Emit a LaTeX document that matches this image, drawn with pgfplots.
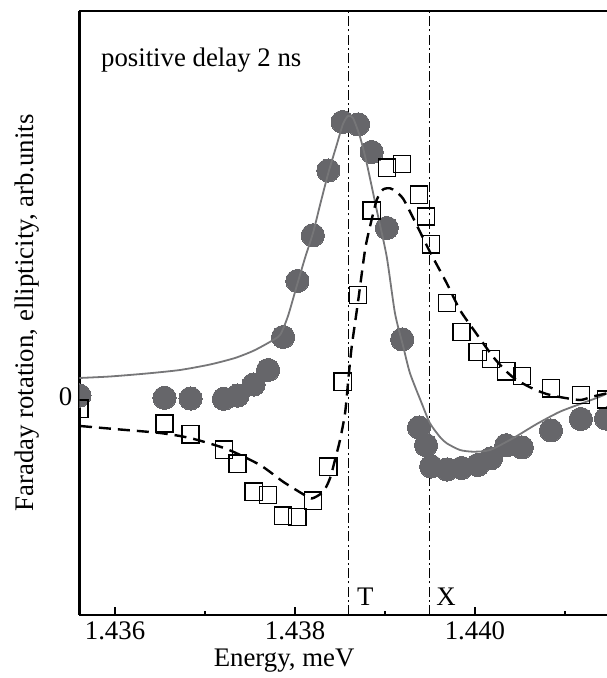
\documentclass[border=0pt]{standalone}
\usepackage{fontspec}
\setmainfont{Liberation Serif}
\usepackage{pgfplots}
\usepackage{pgfplotstable}
\pgfplotsset{compat=1.18}
\definecolor{dotgray}{RGB}{102,102,106}
\definecolor{linegray}{RGB}{118,118,120}
% x: (E - 1.436 meV) in units of 0.001 meV ; y: arb. units
\pgfplotstableread{
x y
-0.396 0.014
0.550 -0.008
0.839 -0.015
1.209 -0.018
1.361 0.014
1.540 0.125
1.700 0.27
1.867 0.60
2.026 1.16
2.198 1.617
2.370 2.265
2.529 2.75
2.701 2.726
2.852 2.45
3.020 1.69
3.191 0.576
3.378 -0.305
3.456 -0.482
3.513 -0.695
3.689 -0.725
3.851 -0.71
4.030 -0.68
4.178 -0.613
4.347 -0.482
4.521 -0.504
4.844 -0.334
5.176 -0.22
5.456 -0.215
}\circles
\pgfplotstableread{
x y
-0.396 -0.118
0.550 -0.265
0.839 -0.374
1.209 -0.528
1.361 -0.668
1.540 -0.947
1.700 -0.98
1.867 -1.187
2.026 -1.20
2.198 -1.038
2.370 -0.697
2.529 0.152
2.701 1.02
2.852 1.864
3.020 2.293
3.191 2.328
3.378 2.022
3.456 1.805
3.513 1.527
3.689 0.94
3.851 0.65
4.030 0.45
4.178 0.38
4.347 0.257
4.521 0.21
4.844 0.087
5.176 0.02
5.456 -0.025
}\squares
\pgfplotstableread{
x y
-0.396 0.19
-0.056 0.205
0.352 0.235
0.722 0.27
1.056 0.325
1.333 0.39
1.533 0.46
1.700 0.54
1.833 0.62
1.922 0.81
2.019 1.11
2.111 1.39
2.203 1.65
2.278 1.92
2.370 2.24
2.463 2.52
2.533 2.73
2.589 2.81
2.644 2.79
2.722 2.603
2.797 2.337
2.908 1.87
3.019 1.403
3.111 0.837
3.203 0.503
3.278 0.237
3.408 -0.063
3.500 -0.263
3.611 -0.40
3.686 -0.463
3.833 -0.53
3.981 -0.547
4.167 -0.53
4.422 -0.413
4.686 -0.27
4.944 -0.147
5.200 -0.06
5.389 0.003
5.467 0.035
}\solidfit
\pgfplotstableread{
x y
-0.389 -0.29
0.056 -0.325
0.500 -0.36
0.833 -0.41
1.241 -0.52
1.611 -0.68
1.867 -0.847
2.074 -0.963
2.186 -1.015
2.314 -0.947
2.389 -0.813
2.444 -0.63
2.500 -0.43
2.556 -0.163
2.592 0.17
2.630 0.503
2.703 0.97
2.778 1.47
2.833 1.703
2.908 1.97
2.978 2.075
3.056 2.087
3.122 2.055
3.200 1.985
3.278 1.853
3.352 1.72
3.500 1.45
3.686 1.138
3.833 0.87
4.000 0.653
4.200 0.403
4.352 0.253
4.463 0.17
4.633 0.088
4.778 0.035
4.922 0.003
5.167 -0.03
5.300 0.003
5.467 0.037
}\dashedfit
\begin{document}
\begin{tikzpicture}
\begin{axis}[
  scale only axis, width=263.8pt, height=302pt,
  xmin=-0.396, xmax=5.467, ymin=-2.18, ymax=3.86,
  axis x line*=box, axis y line*=left,
  axis line style={line width=1.2pt},
  xtick={0,2,4}, xticklabels={1.436,1.438,1.440},
  minor xtick={1,3,5},
  ytick={0}, yticklabels={0},
  tick align=inside, xtick pos=bottom, ytick pos=left,
  major tick length=4.2pt, minor tick length=1.8pt,
  every tick/.style={black, line width=0.8pt},
  tick label style={font=\fontsize{13.4}{15}\selectfont},
  label style={font=\fontsize{13.4}{15}\selectfont},
  xlabel={Energy, meV},
  ylabel={Faraday rotation, ellipticity, arb.units},
  xlabel style={at={(axis description cs:0.388,-0.0853)}, anchor=base},
  ylabel style={at={(axis description cs:-0.0993,0.5)}, anchor=center},
  clip marker paths=true,
]
\coordinate (sw) at (rel axis cs:0,0);
\coordinate (ne) at (rel axis cs:1,1);
\addplot[black, line width=0.75pt, dash pattern=on 5pt off 1.6pt on 1pt off 1.6pt] coordinates {(2.593,-2.18) (2.593,3.86)};
\addplot[black, line width=0.75pt, dash pattern=on 5pt off 1.6pt on 1pt off 1.6pt] coordinates {(3.494,-2.18) (3.494,3.86)};
\addplot[only marks, mark=*, mark size=5.8pt, mark options={fill=dotgray, draw=dotgray, line width=0pt}] table {\circles};
\addplot[linegray, line width=0.9pt, smooth, tension=0.4] table {\solidfit};
\addplot[only marks, mark=square, mark size=4.3pt, mark options={black, line width=0.7pt, solid}] table {\squares};
\addplot[black, line width=1.2pt, dash pattern=on 6pt off 3.5pt, smooth, tension=0.4] table {\dashedfit};
\node[anchor=base west, inner sep=0pt, font=\fontsize{13.4}{15}\selectfont] at (axis cs:2.593,-2.08) {\hspace{4.2pt}T};
\node[anchor=base west, inner sep=0pt, font=\fontsize{13.4}{15}\selectfont] at (axis cs:3.494,-2.08) {\hspace{3.2pt}X};
\node[anchor=base west, inner sep=0pt, font=\fontsize{13.4}{15}\selectfont] at (rel axis cs:0.0404,0.9078) {positive delay 2 ns};
\end{axis}
\pgfresetboundingbox
\path ([xshift=-39.7pt,yshift=-31.5pt]sw) rectangle ([yshift=5.5pt]ne);
\end{tikzpicture}
\end{document}
